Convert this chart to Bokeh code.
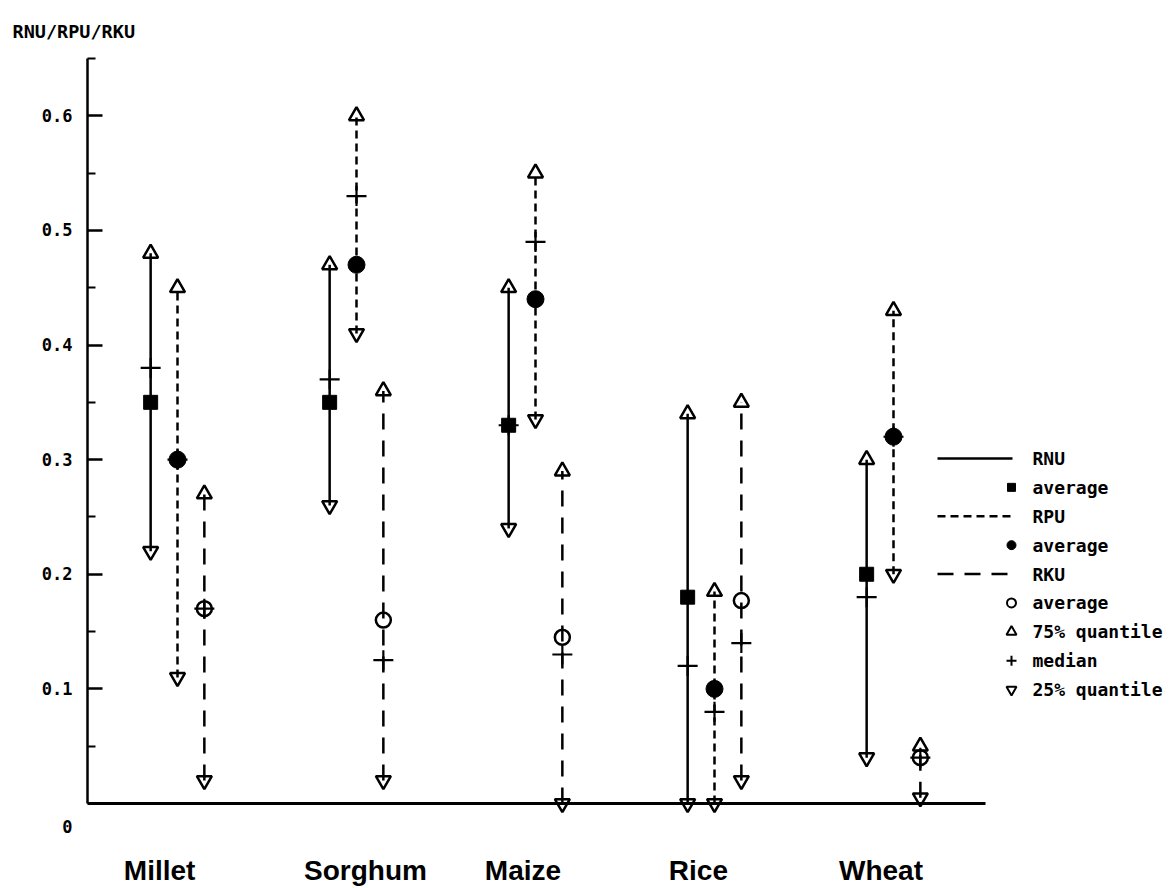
from bokeh.plotting import figure
from bokeh.models import Range1d, FixedTicker, ColumnDataSource
from bokeh.embed import file_html
from bokeh.resources import INLINE
from bokeh.core.properties import value

# ---------------- data ----------------
categories = ["Millet", "Sorghum", "Maize", "Rice", "Wheat"]
series_names = ["RNU", "RPU", "RKU"]

rnu_q75 = [0.48, 0.47, 0.45, 0.34, 0.30]
rnu_med = [0.38, 0.37, 0.33, 0.12, 0.18]
rnu_avg = [0.35, 0.35, 0.33, 0.18, 0.20]
rnu_q25 = [0.22, 0.26, 0.24, 0.00, 0.04]

rpu_q75 = [0.45, 0.60, 0.55, 0.185, 0.43]
rpu_med = [0.30, 0.53, 0.49, 0.08, 0.32]
rpu_avg = [0.30, 0.47, 0.44, 0.10, 0.32]
rpu_q25 = [0.11, 0.41, 0.335, 0.00, 0.20]

rku_q75 = [0.27, 0.36, 0.29, 0.35, 0.05]
rku_med = [0.17, 0.125, 0.13, 0.14, 0.04]
rku_avg = [0.17, 0.16, 0.145, 0.177, 0.04]
rku_q25 = [0.02, 0.02, 0.00, 0.02, 0.005]

y_ticks = [0.0, 0.1, 0.2, 0.3, 0.4, 0.5, 0.6]
y_tick_labels = ["\n\n0", "0.1", "0.2", "0.3", "0.4", "0.5", "0.6"]
y_minor = [0.05, 0.15, 0.25, 0.35, 0.45, 0.55, 0.65]
legend_labels = ["RNU", "average", "RPU", "average", "RKU", "average",
                 "75% quantile", "median", "25% quantile"]
y_title = "RNU/RPU/RKU"

# ---------------- layout ----------------
W, H = 1173, 888
FRAME_LEFT, Y_TOP = 87, 0.65
Y0_PX, PX_PER_Y = 803.0, 1146.0
X0_PX, PX_PER_X = 177.0, 179.0
offsets = [-0.15, 0.0, 0.15]
label_shift = [-0.10, 0.05, -0.07, -0.09, -0.07]

def px2x(px):
    return (px - X0_PX) / PX_PER_X

def py2y(py):
    return (Y0_PX - py) / PX_PER_Y

top_px = Y0_PX - Y_TOP * PX_PER_Y
p = figure(width=W, height=H,
           x_range=Range1d(px2x(FRAME_LEFT), px2x(W)),
           y_range=Range1d(py2y(H), Y_TOP),
           min_border_left=FRAME_LEFT, min_border_right=0,
           min_border_top=int(round(top_px)), min_border_bottom=0,
           x_axis_location=None, y_axis_location="left",
           toolbar_location=None, output_backend="svg")
p.outline_line_color = None
p.grid.visible = False
p.background_fill_color = "white"
p.border_fill_color = "white"

MONO = "DejaVu Sans Mono"

p.title.text = y_title
p.title.align = "left"
p.title.offset = -(FRAME_LEFT - 12)
p.title.standoff = 33
p.title.text_font = MONO
p.title.text_font_size = "18.5px"
p.title.text_font_style = "bold"
p.title.text_color = "black"

ax = p.yaxis[0]
ax.ticker = FixedTicker(ticks=y_ticks, minor_ticks=y_minor)
ax.major_label_overrides = {t: l for t, l in zip(y_ticks, y_tick_labels)}
ax.bounds = (0, Y_TOP)
ax.axis_line_width = 2.5
ax.axis_line_color = "black"
ax.major_tick_in = 15
ax.major_tick_out = 0
ax.minor_tick_in = 8
ax.minor_tick_out = 0
ax.major_tick_line_width = 2.5
ax.minor_tick_line_width = 2
ax.major_label_standoff = 15
ax.major_label_text_font = MONO
ax.major_label_text_font_size = "17px"
ax.major_label_text_font_style = "bold"
ax.major_label_text_color = "black"

# baseline (x axis line at zero)
p.segment(x0=[px2x(FRAME_LEFT)], y0=[0], x1=[px2x(985)], y1=[0],
          line_color="black", line_width=3)

styles = [dict(line_dash="solid"), dict(line_dash="8 5"), dict(line_dash="16 11")]
data = [
    (rnu_q75, rnu_med, rnu_avg, rnu_q25),
    (rpu_q75, rpu_med, rpu_avg, rpu_q25),
    (rku_q75, rku_med, rku_avg, rku_q25),
]

for si, (q75, med, avg, q25) in enumerate(data):
    xs = [i + offsets[si] for i in range(len(categories))]
    src = ColumnDataSource(dict(x=xs, q75=q75, med=med, avg=avg, q25=q25))
    p.segment(x0="x", y0="q25", x1="x", y1="q75", source=src,
              line_color="black", line_width=2.5, **styles[si])
    p.scatter(x="x", y="med", source=src, marker="cross", size=20,
              line_color="black", line_width=2.2)
    if si == 0:
        p.scatter(x="x", y="avg", source=src, marker="square", size=14,
                  fill_color="black", line_color="black", line_width=1)
    elif si == 1:
        p.scatter(x="x", y="avg", source=src, marker="circle", size=17,
                  fill_color="black", line_color="black", line_width=1)
    else:
        p.scatter(x="x", y="avg", source=src, marker="circle", size=15,
                  fill_color=None, line_color="black", line_width=2.5)
    p.scatter(x="x", y="q75", source=src, marker="triangle", size=15,
              fill_color=None, line_color="black", line_width=2.5)
    p.scatter(x="x", y="q25", source=src, marker="inverted_triangle", size=15,
              fill_color=None, line_color="black", line_width=2.5)

# category labels
p.text(x=[i + s for i, s in enumerate(label_shift)], y=[py2y(870)] * len(categories),
       text=categories, text_font=value("Liberation Sans"), text_font_style="bold",
       text_font_size="28px", text_align="center", text_baseline="middle",
       text_color="black")

# legend
rows = [py2y(458 + 28.9 * k) for k in range(len(legend_labels))]
lx0, lx1, lm, lt = px2x(937), px2x(1012), px2x(1011), px2x(1032)
for k, st in zip([0, 2, 4], styles):
    p.segment(x0=[lx0], y0=[rows[k]], x1=[lx1], y1=[rows[k]],
              line_color="black", line_width=2.5, **st)
p.scatter(x=[lm], y=[rows[1]], marker="square", size=8, fill_color="black", line_color="black")
p.scatter(x=[lm], y=[rows[3]], marker="circle", size=9, fill_color="black", line_color="black")
p.scatter(x=[lm], y=[rows[5]], marker="circle", size=9, fill_color=None, line_color="black", line_width=2)
p.scatter(x=[lm], y=[rows[6]], marker="triangle", size=10, fill_color=None, line_color="black", line_width=2)
p.scatter(x=[lm], y=[rows[7]], marker="cross", size=10, line_color="black", line_width=2)
p.scatter(x=[lm], y=[rows[8]], marker="inverted_triangle", size=10, fill_color=None, line_color="black", line_width=2)
p.text(x=[lt] * len(legend_labels), y=rows, text=legend_labels,
       text_font=value(MONO), text_font_style="bold", text_font_size="18px",
       text_align="left", text_baseline="middle", text_color="black")

open("out.html", "w").write(file_html(p, INLINE))
